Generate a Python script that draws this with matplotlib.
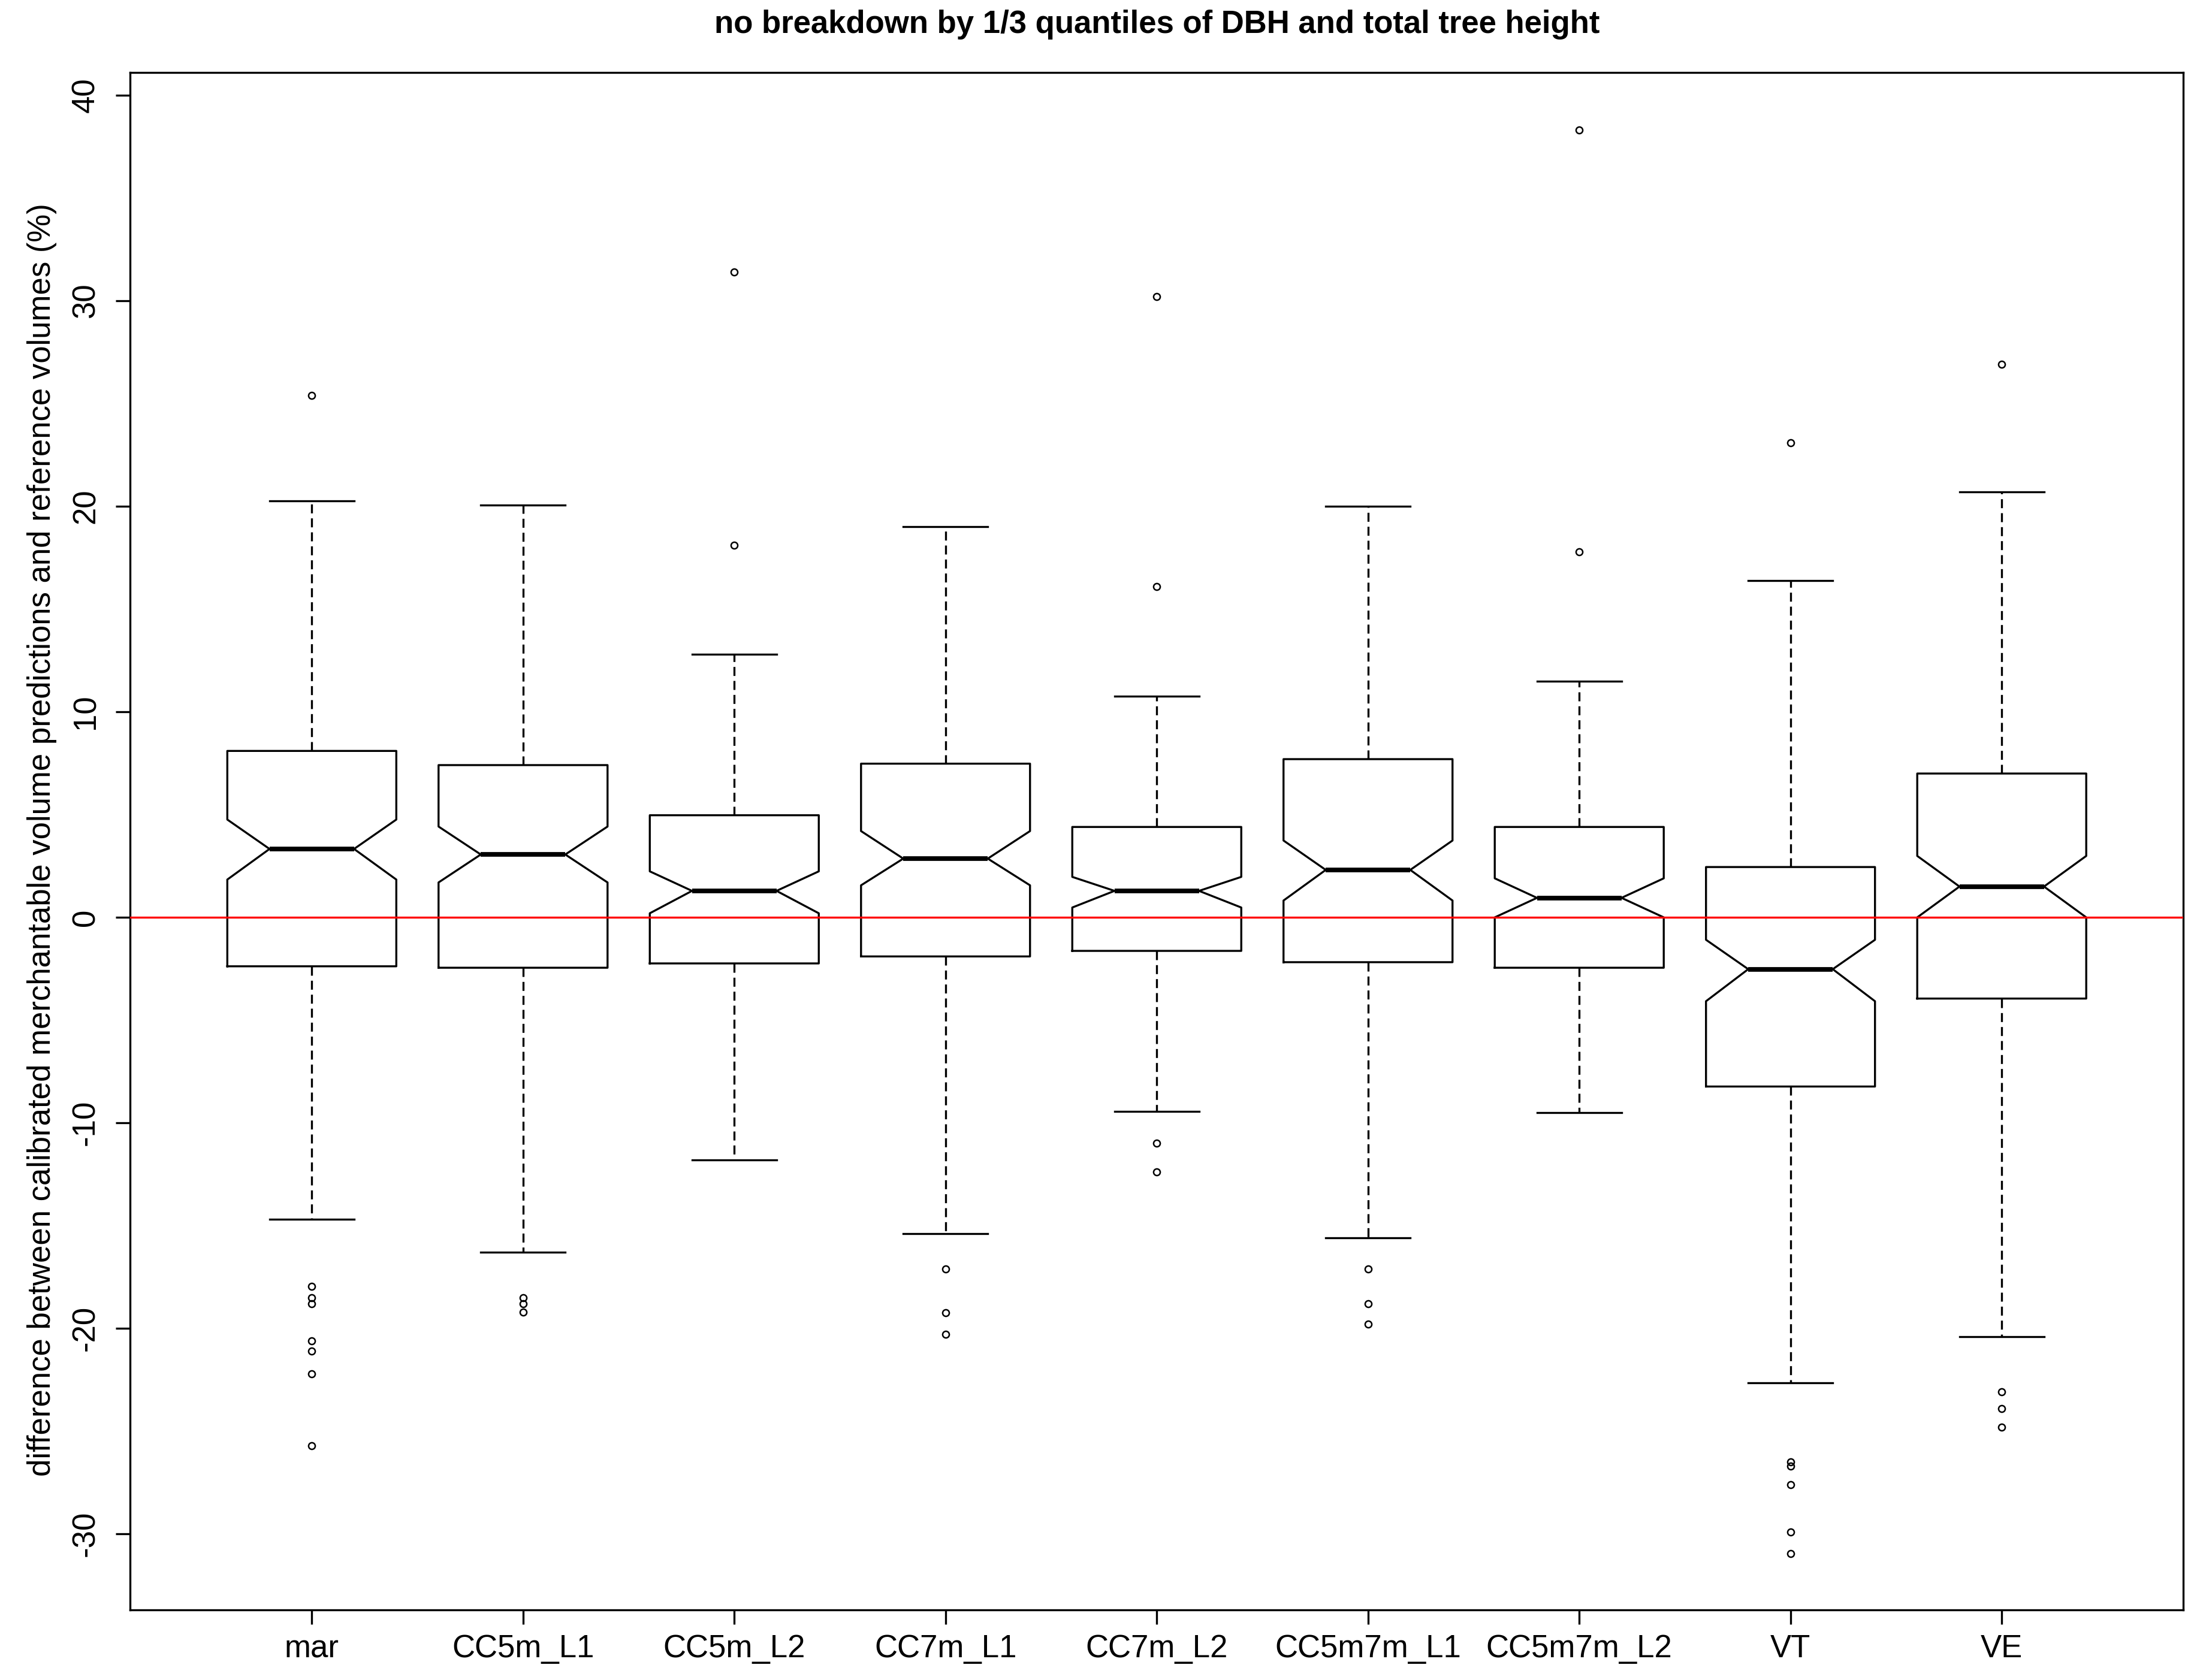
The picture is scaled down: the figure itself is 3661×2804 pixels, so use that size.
import matplotlib
matplotlib.use('Agg')
import matplotlib.pyplot as plt

plt.rcParams['font.family'] = ['Liberation Sans', 'DejaVu Sans']
plt.rcParams['axes.unicode_minus'] = False

# ---- data ----
labels = ['mar', 'CC5m_L1', 'CC5m_L2', 'CC7m_L1', 'CC7m_L2',
          'CC5m7m_L1', 'CC5m7m_L2', 'VT', 'VE']
whis_lo = [-14.7, -16.3, -11.8, -15.4, -9.45, -15.6, -9.5, -22.65, -20.4]
q1      = [-2.38, -2.45, -2.24, -1.9, -1.63, -2.18, -2.45, -8.23, -3.95]
med     = [3.33, 3.06, 1.29, 2.86, 1.29, 2.31, 0.95, -2.52, 1.5]
q3      = [8.1, 7.41, 4.97, 7.48, 4.4, 7.7, 4.4, 2.45, 7.0]
whis_hi = [20.27, 20.07, 12.8, 19.0, 10.75, 20.0, 11.5, 16.4, 20.7]
ci_lo   = [1.84, 1.70, 0.2, 1.56, 0.48, 0.82, 0.0, -4.08, 0.0]
ci_hi   = [4.76, 4.42, 2.24, 4.2, 1.97, 3.74, 1.9, -1.09, 2.99]
fliers  = [
    [25.4, -17.96, -18.5, -18.8, -20.6, -21.1, -22.2, -25.7],
    [-18.5, -18.8, -19.2],
    [31.4, 18.1],
    [-17.1, -19.25, -20.3],
    [30.2, 16.1, -11.0, -12.4],
    [-17.1, -18.8, -19.8],
    [38.3, 17.8],
    [23.1, -26.5, -26.7, -27.6, -29.9, -30.95],
    [26.9, -23.1, -23.9, -24.8],
]

stats = []
for i, lab in enumerate(labels):
    stats.append(dict(label=lab, whislo=whis_lo[i], q1=q1[i], med=med[i],
                      q3=q3[i], whishi=whis_hi[i], cilo=ci_lo[i],
                      cihi=ci_hi[i], fliers=fliers[i]))

DPI = 200
FS = 19
fig = plt.figure(figsize=(18.31, 14.02), dpi=DPI, facecolor='white')
ax = fig.add_axes([0.0593, 0.0417, 0.9356, 0.915])

LW = 1.2
ax.bxp(stats, widths=0.8, shownotches=True, showfliers=True,
       boxprops=dict(color='black', linewidth=LW),
       medianprops=dict(color='black', linewidth=2.8, solid_capstyle='butt'),
       whiskerprops=dict(color='black', linewidth=LW,
                         linestyle=(0, (4.5, 2.5))),
       capprops=dict(color='black', linewidth=LW),
       flierprops=dict(marker='o', markerfacecolor='none',
                       markeredgecolor='black', markersize=4,
                       markeredgewidth=0.9, linestyle='none'))

ax.axhline(0, color='red', linewidth=LW, zorder=5)

ax.set_xlim(0.14, 9.86)
ax.set_ylim(-33.7, 41.1)
ax.set_yticks([-30, -20, -10, 0, 10, 20, 30, 40])

for sp in ax.spines.values():
    sp.set_linewidth(LW)

ax.tick_params(axis='both', length=8.5, width=LW, labelsize=FS)
ax.tick_params(axis='y', pad=9)
ax.tick_params(axis='x', pad=6)
for t in ax.get_yticklabels():
    t.set_rotation(90)
    t.set_va('center')

ax.set_title('no breakdown by 1/3 quantiles of DBH and total tree height',
             fontsize=FS, fontweight='bold', pad=24)
fig.text(0.019, 0.5,
         'difference between calibrated merchantable volume predictions and reference volumes (%)',
         rotation=90, ha='center', va='center', fontsize=FS)

plt.savefig('out.png', dpi=DPI, facecolor='white')
plt.close()
